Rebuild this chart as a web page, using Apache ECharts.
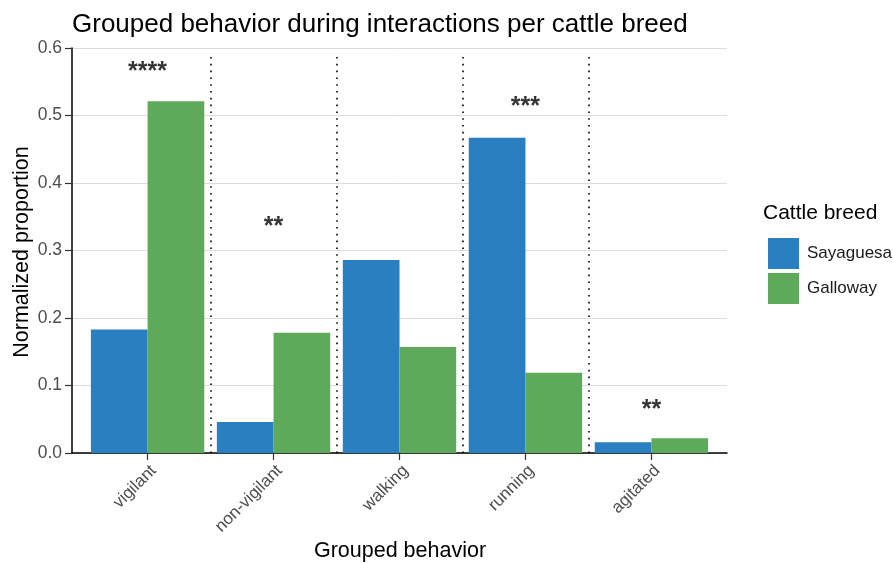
<!DOCTYPE html>
<html>
<head>
<meta charset="utf-8">
<script src="https://cdn.jsdelivr.net/npm/echarts@6/dist/echarts.min.js"></script>
<style>html,body{margin:0;padding:0;background:#fff}#c{width:893px;height:563px}</style>
</head>
<body>
<div id="c"></div>
<script>
const categories = ['vigilant', 'non-vigilant', 'walking', 'running', 'agitated'];
const sayaguesa = [0.183, 0.046, 0.286, 0.467, 0.016];
const galloway = [0.521, 0.178, 0.157, 0.119, 0.022];
const sigLabels = ['****', '**', '', '***', '**'];
const sigHeights = [0.564, 0.334, null, 0.512, 0.063];
const separators = [1.5, 2.5, 3.5, 4.5];

const FONT = '"Liberation Sans", Arial, sans-serif';
const BLUE = '#2a7fc0';
const GREEN = '#5fa95a';

const chart = echarts.init(document.getElementById('c'), null, {renderer: 'canvas'});

const sigData = [];
categories.forEach((c, i) => { if (sigLabels[i]) sigData.push({value: [c, sigHeights[i]], lab: sigLabels[i]}); });

const option = {
  backgroundColor: '#ffffff',
  animation: false,
  textStyle: {fontFamily: FONT},
  grid: [
    {left: 72, right: 166, top: 48, bottom: 110},
    {left: 84.6, right: 178.6, top: 48, bottom: 110}
  ],
  xAxis: [
    {gridIndex: 0, type: 'value', min: 0.4, max: 5.6,
     axisLine: {show: true, onZero: false, lineStyle: {color: '#000', width: 1.5}},
     axisTick: {show: false}, axisLabel: {show: false}, splitLine: {show: false}},
    {gridIndex: 1, type: 'category', data: categories,
     axisLine: {show: false},
     axisTick: {show: true, alignWithLabel: true, length: 7, lineStyle: {color: '#333', width: 1.2}},
     axisLabel: {rotate: 45, color: '#4d4d4d', fontSize: 17, fontFamily: FONT, margin: 9,
                 verticalAlign: 'top'},
     splitLine: {show: false}}
  ],
  yAxis: [
    {gridIndex: 0, type: 'value', min: 0, max: 0.6, interval: 0.1,
     axisLine: {show: true, lineStyle: {color: '#000', width: 1.5}},
     axisTick: {show: true, length: 7, lineStyle: {color: '#333', width: 1.2}},
     axisLabel: {color: '#4d4d4d', fontSize: 17.5, fontFamily: FONT, margin: 10,
                 formatter: v => v.toFixed(1)},
     splitLine: {show: true, lineStyle: {color: '#dcdcdc', width: 1}}},
    {gridIndex: 1, type: 'value', min: 0, max: 0.6, show: false}
  ],
  legend: {
    orient: 'vertical', left: 763, top: 233,
    itemWidth: 31, itemHeight: 31, itemGap: 4,
    icon: 'rect',
    data: ['Sayaguesa', 'Galloway'],
    textStyle: {fontSize: 17, color: '#1a1a1a', fontFamily: FONT, padding: [0, 0, 0, 3]}
  },
  series: [
    {name: 'Sayaguesa', type: 'bar', xAxisIndex: 1, yAxisIndex: 1,
     data: sayaguesa, barWidth: '45%', barGap: '0%', itemStyle: {color: BLUE}},
    {name: 'Galloway', type: 'bar', xAxisIndex: 1, yAxisIndex: 1,
     data: galloway, barWidth: '45%', barGap: '0%', itemStyle: {color: GREEN}},
    {name: 'sig', type: 'scatter', xAxisIndex: 1, yAxisIndex: 1,
     data: sigData, symbolSize: 0, silent: true,
     label: {show: true, position: 'inside', color: '#000', fontSize: 25, fontWeight: 'bold', fontFamily: FONT,
             formatter: p => p.data.lab}},
    {name: 'sep', type: 'scatter', xAxisIndex: 0, yAxisIndex: 0,
     data: [], symbolSize: 0, silent: true,
     markLine: {silent: true, symbol: 'none', label: {show: false},
       lineStyle: {color: '#000', width: 1.6, type: [1.6, 5.2]},
       data: separators.map(s => [{coord: [s, 0]}, {coord: [s, 0.59]}])}}
  ],
  graphic: [
    {type: 'text', left: 72, top: 12,
     style: {text: 'Grouped behavior during interactions per cattle breed', fontSize: 26, fontFamily: FONT, fill: '#000'}},
    {type: 'text', x: 22, y: 252, rotation: Math.PI / 2,
     style: {text: 'Normalized proportion', fontSize: 21.5, fontFamily: FONT, fill: '#000', align: 'center', verticalAlign: 'middle'}},
    {type: 'text', x: 400, y: 551,
     style: {text: 'Grouped behavior', fontSize: 21.5, fontFamily: FONT, fill: '#000', align: 'center', verticalAlign: 'middle'}},
    {type: 'text', x: 763, y: 213,
     style: {text: 'Cattle breed', fontSize: 21, fontFamily: FONT, fill: '#000', align: 'left', verticalAlign: 'middle'}}
  ]
};
chart.setOption(option);
</script>
</body>
</html>
